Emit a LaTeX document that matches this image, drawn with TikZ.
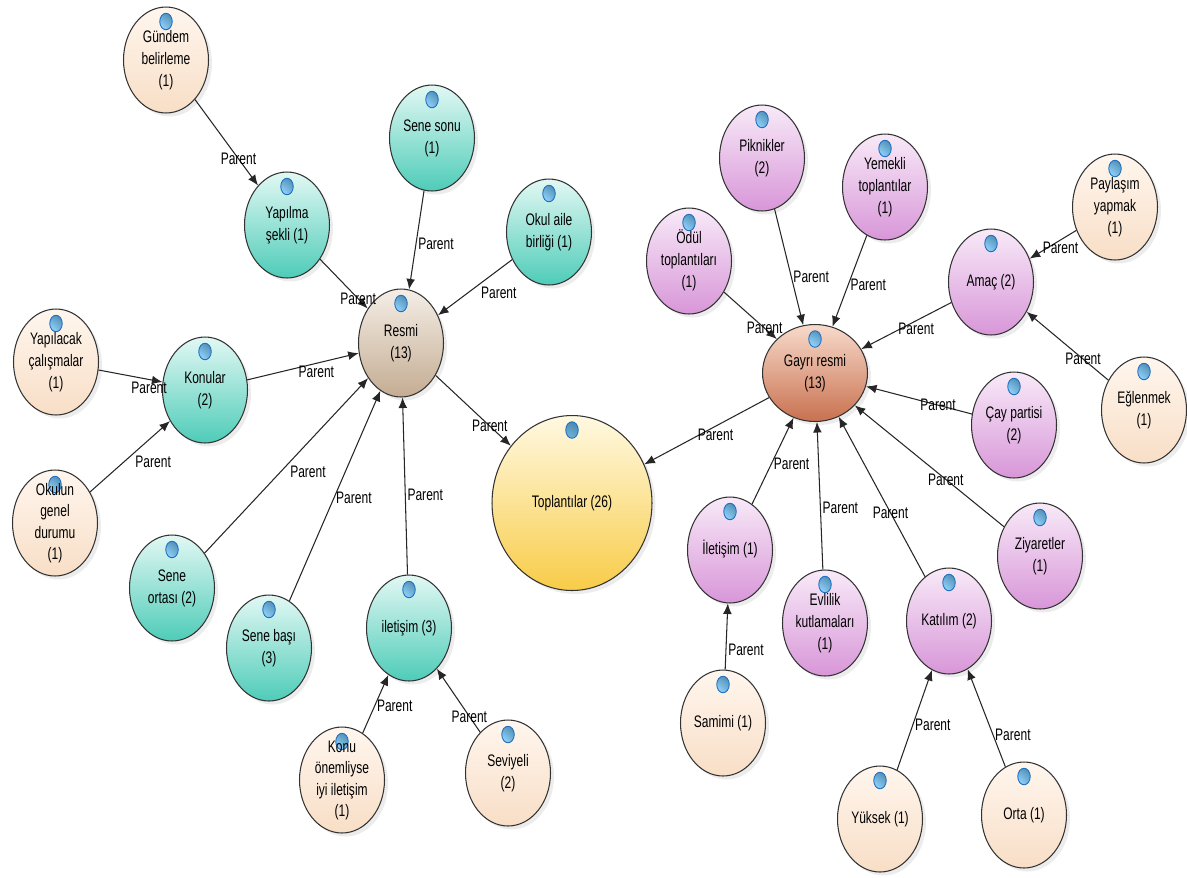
\documentclass[tikz,border=0pt]{standalone}
\usepackage{fontspec}
\setmainfont{Liberation Sans}[FakeStretch=0.72]
\usetikzlibrary{shapes.geometric,arrows.meta,shadows}
\definecolor{leaftop}{HTML}{FFF6EE}
\definecolor{leafbot}{HTML}{F8DEC6}
\definecolor{tealtop}{HTML}{E2F8F4}
\definecolor{tealbot}{HTML}{4ECCB8}
\definecolor{purptop}{HTML}{F8EAF8}
\definecolor{purpbot}{HTML}{D896D8}
\definecolor{formtop}{HTML}{F4EEE6}
\definecolor{formbot}{HTML}{C4AC92}
\definecolor{inftop}{HTML}{F8DACB}
\definecolor{infbot}{HTML}{C8714F}
\definecolor{meettop}{HTML}{FFF9E2}
\definecolor{meetbot}{HTML}{F8CC48}
\definecolor{bead}{HTML}{6CC4FA}
\definecolor{beadrim}{HTML}{1F6FC0}
\newcommand{\ntext}[1]{\smash{\raisebox{-2.3pt}{\begin{tabular}{@{}c@{}}#1\end{tabular}}}}
\tikzset{
  bubble/.style={ellipse, draw=black!80, line width=0.6pt, minimum width=1.7cm, minimum height=2.12cm,
    inner sep=0pt, font=\fontsize{9.5}{12.3}\selectfont, shading angle=45,
    drop shadow={opacity=0.15, shadow xshift=2pt, shadow yshift=-2pt},
    path picture={\shadedraw[ball color=bead, draw=beadrim, line width=0.5pt] ([yshift=-0.29cm]path picture bounding box.north) ellipse [x radius=0.125cm, y radius=0.165cm];}},
  leaf/.style={bubble, top color=leaftop, bottom color=leafbot},
  topic/.style={bubble, top color=tealtop, bottom color=tealbot},
  kind/.style={bubble, top color=purptop, bottom color=purpbot},
  formal/.style={bubble, top color=formtop, bottom color=formbot, minimum height=2.16cm},
  informal/.style={bubble, top color=inftop, bottom color=infbot, minimum width=2.1cm, minimum height=1.94cm},
  meeting/.style={bubble, top color=meettop, bottom color=meetbot, minimum width=3.2cm, minimum height=3.5cm},
  link/.style={draw=black!85, line width=0.6pt, -{Latex[length=6pt,width=5pt]}},
  lbl/.style={font=\fontsize{9.5}{12.3}\selectfont, inner sep=1pt}
}
\begin{document}
\begin{tikzpicture}[x=0.02cm,y=-0.02cm]
\useasboundingbox (0,0) rectangle (1187,877);
\node[leaf] (gundem) at (166,60) {\ntext{Gündem\\belirleme\\(1)}};
\node[topic] (yapilma) at (287,225) {\ntext{Yapılma\\şekli (1)}};
\node[topic] (senesonu) at (432,138) {\ntext{Sene sonu\\(1)}};
\node[topic] (okulaile) at (549,232) {\ntext{Okul aile\\birliği (1)}};
\node[formal] (resmi) at (401,343) {\ntext{Resmi\\(13)}};
\node[leaf] (yapilacak) at (56,362) {\ntext{Yapılacak\\çalışmalar\\(1)}};
\node[topic] (konular) at (205,390) {\ntext{Konular\\(2)}};
\node[leaf] (okulun) at (55,523) {\ntext{Okulun\\genel\\durumu\\(1)}};
\node[topic] (seneortasi) at (172,588) {\ntext{Sene\\ortası (2)}};
\node[topic] (senebasi) at (269,648) {\ntext{Sene başı\\(3)}};
\node[topic] (iletisimuc) at (409,628) {\ntext{iletişim (3)}};
\node[leaf] (konu) at (342,780) {\ntext{Konu\\önemliyse\\iyi iletişim\\(1)}};
\node[leaf] (seviyeli) at (508,773) {\ntext{Seviyeli\\(2)}};
\node[meeting] (toplanti) at (572,503) {\ntext{Toplantılar (26)}};
\node[informal] (gayri) at (815,373) {\ntext{Gayrı resmi\\(13)}};
\node[kind] (piknik) at (762,158) {\ntext{Piknikler\\(2)}};
\node[kind] (yemekli) at (885,187) {\ntext{Yemekli\\toplantılar\\(1)}};
\node[kind] (odul) at (689,261) {\ntext{Ödül\\toplantıları\\(1)}};
\node[kind] (amac) at (991,282) {\ntext{Amaç (2)}};
\node[leaf] (paylasim) at (1115,207) {\ntext{Paylaşım\\yapmak\\(1)}};
\node[leaf] (eglenmek) at (1144,410) {\ntext{Eğlenmek\\(1)}};
\node[kind] (cay) at (1014,425) {\ntext{Çay partisi\\(2)}};
\node[kind] (ziyaret) at (1040,556) {\ntext{Ziyaretler\\(1)}};
\node[kind] (iletisimbir) at (730,550) {\ntext{İletişim (1)}};
\node[kind] (evlilik) at (825,623) {\ntext{Evlilik\\kutlamaları\\(1)}};
\node[kind] (katilim) at (949,621) {\ntext{Katılım (2)}};
\node[leaf] (samimi) at (723,723) {\ntext{Samimi (1)}};
\node[leaf] (yuksek) at (880,819) {\ntext{Yüksek (1)}};
\node[leaf] (orta) at (1024,815) {\ntext{Orta (1)}};

\draw[link] (gundem) -- node[lbl,pos=.69] (l1) {Parent} (yapilma);
\draw[link] (yapilma) -- node[lbl,pos=.80] (l2) {Parent} (resmi);
\draw[link] (senesonu) -- node[lbl,pos=.54,anchor=west] (l3) {Parent} (resmi);
\draw[link] (okulaile) -- node[lbl,pos=.45,anchor=north west] (l4) {Parent} (resmi);
\draw[link] (yapilacak) -- node[lbl,pos=.79,anchor=north] (l5) {Parent} (konular);
\draw[link] (konular) -- node[lbl,pos=.62,anchor=north] (l6) {Parent} (resmi);
\draw[link] (okulun) -- node[lbl,pos=.54,anchor=north west] (l7) {Parent} (konular);
\draw[link] (seneortasi) -- node[lbl,pos=.51,anchor=north west] (l8) {Parent} (resmi);
\draw[link] (senebasi) -- node[lbl,pos=.49,anchor=west] (l9) {Parent} (resmi);
\draw[link] (iletisimuc) -- node[lbl,pos=.45,anchor=west] (l10) {Parent} (resmi);
\draw[link] (konu) -- node[lbl,pos=.47,anchor=west] (l11) {Parent} (iletisimuc);
\draw[link] (seviyeli) -- node[lbl,pos=.25] (l12) {Parent} (iletisimuc);
\draw[link] (resmi) -- node[lbl,pos=.72] (l13) {Parent} (toplanti);
\draw[link] (gayri) -- node[lbl,pos=.43,anchor=north] (l14) {Parent} (toplanti);
\draw[link] (odul) -- node[lbl,pos=.77] (l15) {Parent} (gayri);
\draw[link] (piknik) -- node[lbl,pos=.58,anchor=west] (l16) {Parent} (gayri);
\draw[link] (yemekli) -- node[lbl,pos=.54,anchor=west] (l17) {Parent} (gayri);
\draw[link] (amac) -- node[lbl,pos=.39,anchor=north] (l18) {Parent} (gayri);
\draw[link] (paylasim) -- node[lbl,pos=.34,anchor=north] (l19) {Parent} (amac);
\draw[link] (eglenmek) -- node[lbl,pos=.31] (l20) {Parent} (amac);
\draw[link] (cay) -- node[lbl,pos=.32] (l21) {Parent} (gayri);
\draw[link] (ziyaret) -- node[lbl,pos=.39] (l22) {Parent} (gayri);
\draw[link] (katilim) -- node[lbl,pos=.40] (l23) {Parent} (gayri);
\draw[link] (evlilik) -- node[lbl,pos=.42,anchor=west] (l24) {Parent} (gayri);
\draw[link] (iletisimbir) -- node[lbl,pos=.47,anchor=west] (l25) {Parent} (gayri);
\draw[link] (samimi) -- node[lbl,pos=.30,anchor=west] (l26) {Parent} (iletisimbir);
\draw[link] (yuksek) -- node[lbl,pos=.45,anchor=west] (l27) {Parent} (katilim);
\draw[link] (orta) -- node[lbl,pos=.33,anchor=west] (l28) {Parent} (katilim);
\end{tikzpicture}
\end{document}
